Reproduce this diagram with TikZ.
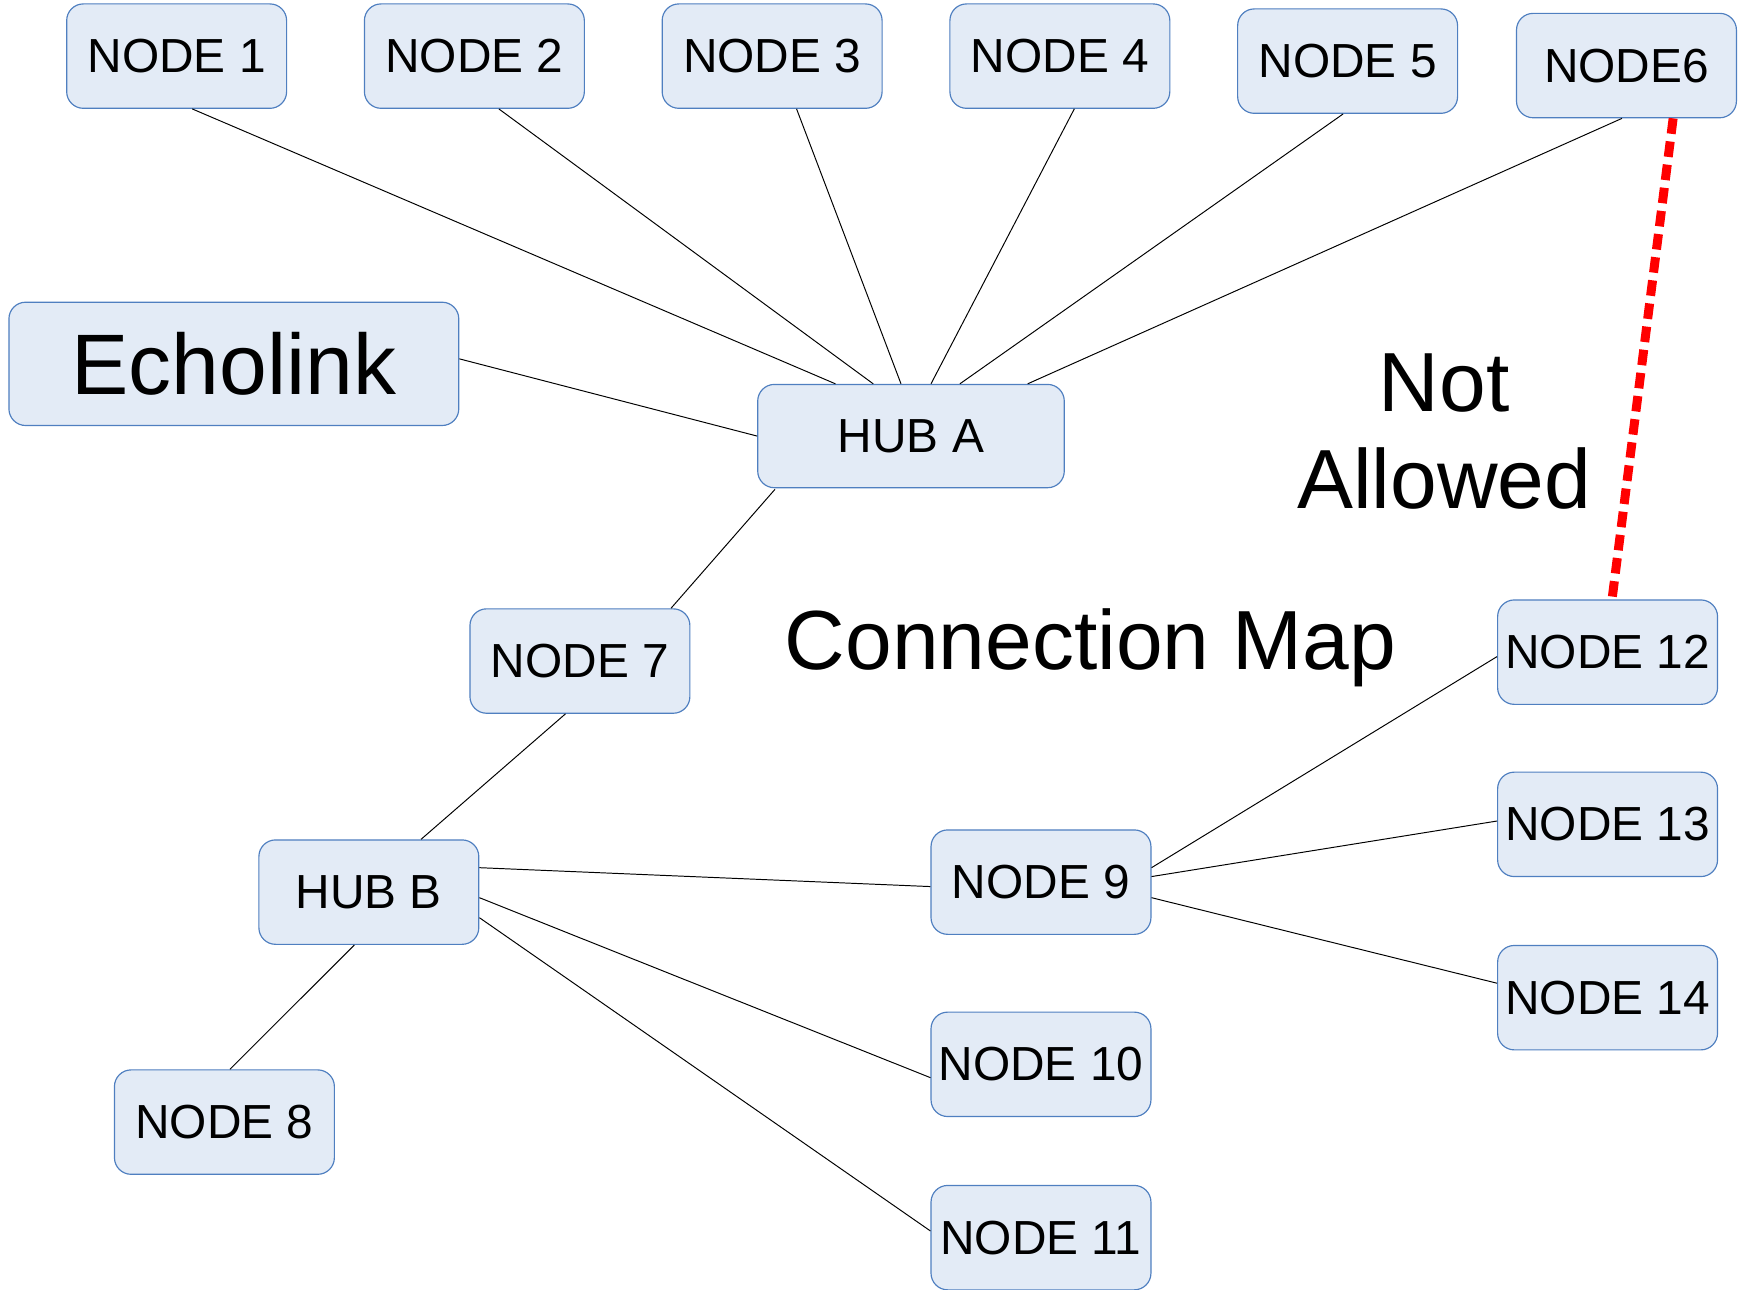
\documentclass[tikz,border=0pt]{standalone}
\usepackage{fontspec}
\setmainfont{Liberation Sans}
\usetikzlibrary{calc}
\definecolor{boxfill}{HTML}{E3EBF6}
\definecolor{boxdraw}{HTML}{4F7FC0}
\begin{document}
\begin{tikzpicture}[x=0.02cm,y=-0.02cm,
  box/.style={draw=boxdraw, fill=boxfill, rounded corners=0.3cm, minimum width=3.96cm, minimum height=1.88cm, inner sep=0pt, line width=0.6pt, font=\fontsize{24.5}{28}\selectfont},
  link/.style={draw=black, line width=0.5pt},
  banned/.style={draw=red, line width=4.6pt, dash pattern=on 0.28cm off 0.14cm},
  bigtext/.style={anchor=base, inner sep=0pt, font=\fontsize{43}{50}\selectfont}]
\useasboundingbox (0,0) rectangle (1568,1161);
% nodes
\node[box] (n1) at (159,50.5) {NODE 1};
\node[box] (n2) at (427,50.5) {NODE 2};
\node[box] (n3) at (695,50.5) {NODE 3};
\node[box] (n4) at (954,50.5) {NODE 4};
\node[box] (n5) at (1213,55) {NODE 5};
\node[box] (n6) at (1464,59) {NODE6};
\node[box, minimum width=8.1cm, minimum height=2.22cm, font=\fontsize{44}{50}\selectfont] (echo) at (210.5,327.5) {Echolink};
\node[box, minimum width=5.52cm, minimum height=1.86cm] (hubA) at (820,392.5) {HUB A};
\node[box] (n7) at (522,595) {NODE 7};
\node[box] (hubB) at (332,803) {HUB B};
\node[box] (n8) at (202,1010) {NODE 8};
\node[box] (n9) at (937,794) {NODE 9};
\node[box] (n10) at (937,958) {NODE 10};
\node[box] (n11) at (937,1114) {NODE 11};
\node[box] (n12) at (1447,587) {NODE 12};
\node[box] (n13) at (1447,742) {NODE 13};
\node[box] (n14) at (1447,898) {NODE 14};
% texts
\node[bigtext] (notA) at (1300,370) {Not};
\node[bigtext] (notB) at (1300,458) {Allowed};
\node[bigtext] (title) at (981.5,603) {Connection Map};
% connectors
\draw[link] ($(n1.south)+(14,0)$) -- ($(hubA.north)+(-68,0)$);
\draw[link] ($(n2.south)+(22,0)$) -- ($(hubA.north)+(-34,0)$);
\draw[link] ($(n3.south)+(22,0)$) -- ($(hubA.north)+(-9,0)$);
\draw[link] ($(n4.south)+(13,0)$) -- ($(hubA.north)+(18,0)$);
\draw[link] ($(n5.south)+(-4,0)$) -- ($(hubA.north)+(44,0)$);
\draw[link] ($(n6.south)+(-4,0)$) -- ($(hubA.north)+(105,0)$);
\draw[link] ($(echo.east)+(0,-4.5)$) -- (hubA.west);
\draw[link] ($(hubA.south west)+(16,1)$) -- ($(n7.north)+(82,0)$);
\draw[link] ($(n7.south)+(-13,0)$) -- ($(hubB.north)+(47,0)$);
\draw[link] ($(hubB.south)+(-13,0)$) -- ($(n8.north)+(5,0)$);
\draw[link] ($(hubB.east)+(0,-22)$) -- ($(n9.west)+(0,4)$);
\draw[link] ($(hubB.east)+(0,5)$) -- ($(n10.west)+(0,12)$);
\draw[link] ($(hubB.east)+(0,23)$) -- ($(n11.west)+(0,-6)$);
\draw[link] ($(n9.east)+(0,-13)$) -- ($(n12.west)+(0,4)$);
\draw[link] ($(n9.east)+(0,-5)$) -- ($(n13.west)+(0,-3)$);
\draw[link] ($(n9.east)+(0,14)$) -- ($(n14.west)+(0,-13)$);
\draw[banned] ($(n6.south)+(42,0)$) -- ($(n12.north)+(4,0)$);
\end{tikzpicture}
\end{document}
